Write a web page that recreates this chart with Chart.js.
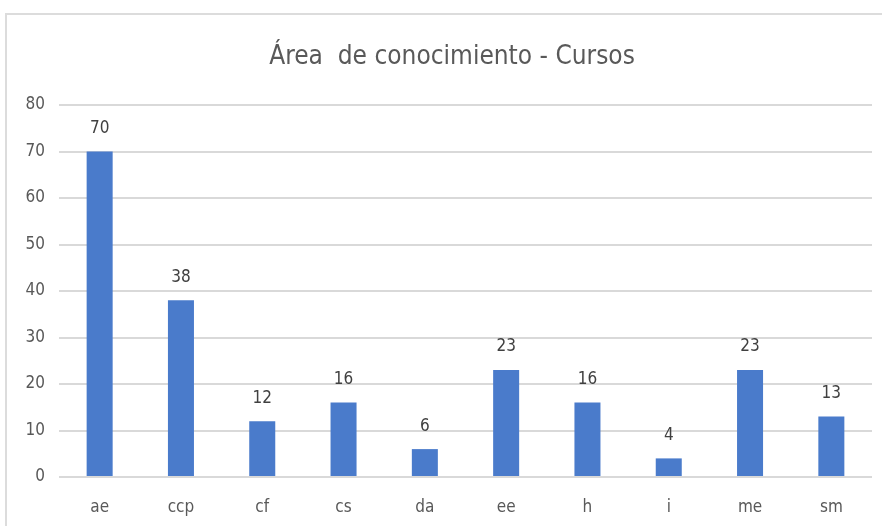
<!DOCTYPE html>
<html>
<head>
<meta charset="utf-8">
<script src="https://cdn.jsdelivr.net/npm/chart.js@4"></script>
<style>
    html, body { margin: 0; padding: 0; background: #fff; overflow: hidden; }
    #marco { position: absolute; left: 5px; top: 13px; width: 900px; height: 540px; border: 2px solid #dcdcdc; box-sizing: border-box; }
    #grafico { position: absolute; left: 0; top: 0; }
</style>
</head>
<body>
<div id="marco"></div>
<canvas id="grafico" width="882" height="526"></canvas>
<script>
const areas = ['ae', 'ccp', 'cf', 'cs', 'da', 'ee', 'h', 'i', 'me', 'sm'];
const cursos = [70, 38, 12, 16, 6, 23, 16, 4, 23, 13];
const ticksY = [0, 10, 20, 30, 40, 50, 60, 70, 80];
const titulo = 'Área  de conocimiento - Cursos';

const fuente = "'DejaVu Sans Condensed', 'Liberation Sans Narrow', sans-serif";

// titulo y etiquetas encima de cada barra
const textosExtra = {
    id: 'textosExtra',
    afterDatasetsDraw(chart) {
        const ctx = chart.ctx;
        const meta = chart.getDatasetMeta(0);
        ctx.save();
        ctx.textAlign = 'center';
        ctx.textBaseline = 'middle';
        ctx.font = '26px ' + fuente;
        ctx.fillStyle = '#595959';
        ctx.fillText(titulo, 452, 57);
        ctx.font = '17px ' + fuente;
        ctx.fillStyle = '#404040';
        meta.data.forEach((barra, i) => {
            ctx.fillText(cursos[i], barra.x, barra.y - 23);
        });
        ctx.restore();
    }
};

const ctx = document.getElementById('grafico').getContext('2d');
new Chart(ctx, {
    type: 'bar',
    data: {
        labels: areas,
        datasets: [{
            label: 'Cursos',
            data: cursos,
            backgroundColor: '#4A7BCB',
            barPercentage: 0.32,
            categoryPercentage: 1
        }]
    },
    options: {
        responsive: false,
        animation: false,
        layout: { padding: { left: 0, right: 10, top: 105, bottom: 0 } },
        plugins: {
            legend: { display: false },
            tooltip: { enabled: false },
            title: { display: false }
        },
        scales: {
            x: {
                grid: { display: false },
                border: { display: false },
                ticks: { color: '#595959', font: { family: fuente, size: 17 }, padding: 12 },
                afterFit: (scale) => { scale.height = 49; }
            },
            y: {
                min: 0,
                max: 80,
                afterBuildTicks: (scale) => { scale.ticks = ticksY.map(v => ({ value: v })); },
                grid: { color: '#d9d9d9', lineWidth: 2, drawTicks: false },
                border: { display: false },
                ticks: { color: '#595959', font: { family: fuente, size: 17 }, padding: 14 },
                afterFit: (scale) => { scale.width = 59; }
            }
        }
    },
    plugins: [textosExtra]
});
</script>
</body>
</html>
